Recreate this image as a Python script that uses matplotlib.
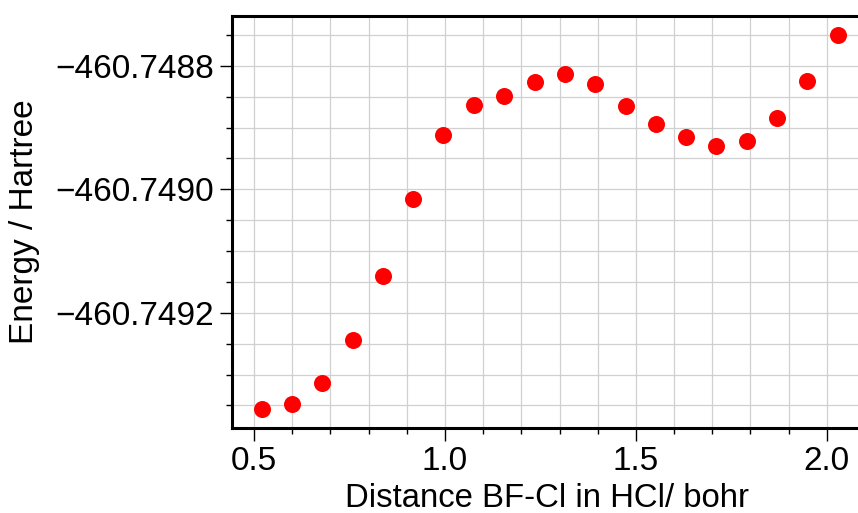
import matplotlib
matplotlib.use("Agg")
import matplotlib.pyplot as plt
from matplotlib.ticker import MultipleLocator, FuncFormatter

plt.rcParams['font.family'] = ['Liberation Sans', 'DejaVu Sans']

# distance BF-Cl (bohr) and total energy (Hartree)
distance = [0.520, 0.599, 0.679, 0.758, 0.838, 0.917, 0.996, 1.076, 1.155, 1.235,
            1.314, 1.393, 1.473, 1.552, 1.632, 1.711, 1.790, 1.870, 1.949, 2.029]
energy = [-460.749356, -460.749348, -460.749313, -460.749244, -460.749141,
          -460.749016, -460.748912, -460.748864, -460.748849, -460.748827,
          -460.748813, -460.748830, -460.748865, -460.748895, -460.748916,
          -460.748930, -460.748922, -460.748885, -460.748825, -460.748750]

fig = plt.figure(figsize=(8.58, 5.13), dpi=100)
ax = fig.add_axes([0.2707, 0.165, 0.733, 0.8044])

ax.scatter(distance, energy, s=150, color='red', zorder=3, linewidths=0)

ax.set_xlim(0.443, 2.09)
ax.set_ylim(-460.749387, -460.748719)

ax.xaxis.set_major_locator(MultipleLocator(0.5))
ax.xaxis.set_minor_locator(MultipleLocator(0.1))
ax.yaxis.set_major_locator(MultipleLocator(0.0002))
ax.yaxis.set_minor_locator(MultipleLocator(0.00005))
ax.xaxis.set_major_formatter(FuncFormatter(lambda v, p: '%.1f' % v))
ax.yaxis.set_major_formatter(FuncFormatter(lambda v, p: ('%.4f' % v).replace('-', '\u2212')))

ax.grid(True, which='both', color='#d0d0d0', linewidth=0.9)
ax.set_axisbelow(True)

for side in ['left', 'bottom', 'top', 'right']:
    ax.spines[side].set_linewidth(2.2)

ax.tick_params(which='major', direction='out', length=9, width=1.0, labelsize=24, pad=4)
ax.tick_params(which='minor', direction='out', length=4, width=1.0)

ax.set_xlabel('Distance BF-Cl in HCl/ bohr', fontsize=23.7)
ax.set_ylabel('Energy / Hartree', fontsize=24)
ax.xaxis.set_label_coords(0.5, -0.133)
ax.yaxis.set_label_coords(-0.305, 0.5)

fig.savefig('out.png', dpi=100)
